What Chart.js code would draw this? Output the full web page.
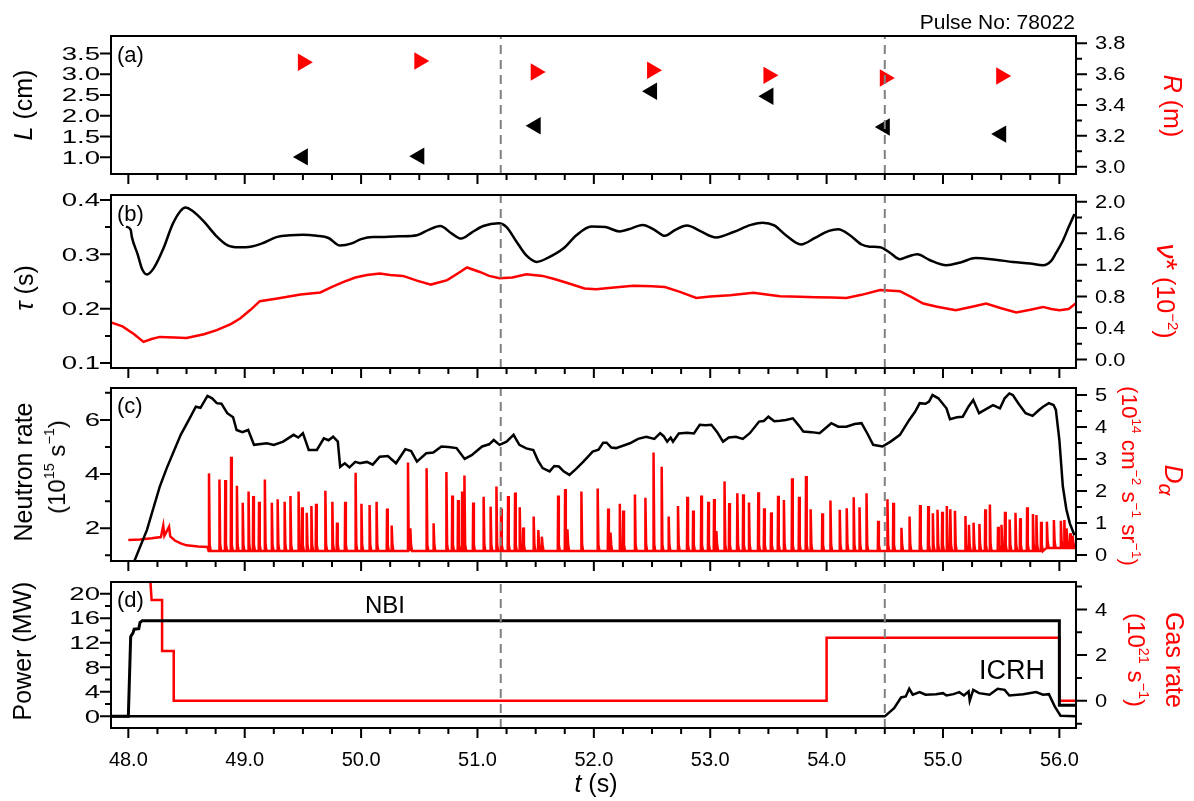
<!DOCTYPE html>
<html>
<head>
<meta charset="utf-8">
<script src="https://cdn.jsdelivr.net/npm/chart.js@4.4.1/dist/chart.umd.min.js"></script>
<style>
html, body { margin: 0; padding: 0; background: #fff; }
#fig { position: relative; width: 1194px; height: 801px; overflow: hidden; font-family: "Liberation Sans", Arial, sans-serif; }
#fig canvas { position: absolute; left: 0; top: 0; }
.t { position: absolute; white-space: nowrap; line-height: 1; color: #000; }
.l { transform: translate(-50%, -50%) rotate(-90deg); }
.r { transform: translate(-50%, -50%) rotate(90deg); color: #f00; }
sup { font-size: 0.6em; position: relative; top: -0.75em; vertical-align: baseline; line-height: 0; }
sub { font-size: 0.8em; position: relative; top: 0.3em; vertical-align: baseline; line-height: 0; }
</style>
</head>
<body>
<div id="fig">
  <canvas id="pa" width="1194" height="801"></canvas>
  <canvas id="pb" width="1194" height="801"></canvas>
  <canvas id="pc" width="1194" height="801"></canvas>
  <canvas id="pd" width="1194" height="801"></canvas>

  <div class="t" style="right:119px;top:11px;font-size:21px">Pulse No: 78022</div>
  <div class="t" style="left:117px;top:44px;font-size:22px">(a)</div>
  <div class="t" style="left:117px;top:203px;font-size:22px">(b)</div>
  <div class="t" style="left:117px;top:395px;font-size:22px">(c)</div>
  <div class="t" style="left:117px;top:589px;font-size:22px">(d)</div>
  <div class="t" style="left:365px;top:593px;font-size:24px">NBI</div>
  <div class="t" style="left:979px;top:657px;font-size:27px">ICRH</div>

  <div class="t l" style="left:23px;top:105px;font-size:25px"><i>L</i> (cm)</div>
  <div class="t l" style="left:24px;top:288px;font-size:25px"><i>τ</i> (s)</div>
  <div class="t l" style="left:23px;top:472px;font-size:25px">Neutron rate</div>
  <div class="t l" style="left:57px;top:467px;font-size:24px">(10<sup>15</sup> s<sup>−1</sup>)</div>
  <div class="t l" style="left:22px;top:651px;font-size:25px">Power (MW)</div>

  <div class="t r" style="left:1172px;top:106px;font-size:25px"><i>R</i> (m)</div>
  <div class="t r" style="left:1167px;top:291px;font-size:25px"><i style="font-size:30px">ν</i><span style="font-size:30px">*</span> (10<sup>−2</sup>)</div>
  <div class="t r" style="left:1174px;top:480px;font-size:26px"><i>D<sub>α</sub></i></div>
  <div class="t r" style="left:1129px;top:476px;font-size:22.5px">(10<sup>14</sup> cm<sup>−2</sup> s<sup>−1</sup> sr<sup>−1</sup>)</div>
  <div class="t r" style="left:1174px;top:660px;font-size:25px">Gas rate</div>
  <div class="t r" style="left:1136px;top:660px;font-size:24px">(10<sup>21</sup> s<sup>−1</sup>)</div>

  <div class="t" style="left:596px;top:783px;font-size:25px;transform:translate(-50%,-50%)"><i>t</i> (s)</div>
</div>
<script>
// shared time axis
const xMin = 47.851, xMax = 56.143;
const xTicks = [48, 49, 50, 51, 52, 53, 54, 55, 56];
const dashT = [51.2, 54.5];

// (a) probe position L and radius R
const probeT = [49.5, 50.5, 51.5, 52.5, 53.5, 54.5, 55.5];
const probeL = [1.01, 1.03, 1.76, 2.59, 2.47, 1.73, 1.56];
const probeR = [3.677, 3.685, 3.614, 3.625, 3.592, 3.575, 3.588];
const aLeftTicks = [1.0, 1.5, 2.0, 2.5, 3.0, 3.5];
const aRightTicks = [3.0, 3.2, 3.4, 3.6, 3.8];

// (b) tau (s) and nu* (1e-2)
const tauT = [47.98,48.02,48.03,48.08,48.12,48.16,48.22,48.3,48.38,48.45,48.49,48.55,48.65,48.75,48.85,48.95,49.05,49.15,49.28,49.39,49.5,49.62,49.72,49.82,49.92,50.0,50.1,50.2,50.33,50.48,50.58,50.68,50.78,50.86,50.95,51.05,51.18,51.25,51.33,51.42,51.51,51.6,51.74,51.85,51.98,52.1,52.22,52.3,52.42,52.52,52.61,52.7,52.8,52.92,53.05,53.2,53.35,53.45,53.55,53.65,53.78,53.9,54.02,54.1,54.2,54.3,54.37,54.46,54.55,54.63,54.7,54.78,54.88,55.03,55.15,55.28,55.45,55.6,55.75,55.86,55.93,55.97,56.03,56.08,56.13];
const tauV = [0.351,0.345,0.332,0.3,0.272,0.263,0.275,0.31,0.355,0.38,0.386,0.38,0.36,0.335,0.317,0.313,0.314,0.32,0.332,0.335,0.336,0.334,0.33,0.316,0.32,0.328,0.332,0.332,0.333,0.335,0.345,0.352,0.338,0.329,0.34,0.352,0.357,0.35,0.325,0.298,0.286,0.293,0.311,0.335,0.351,0.35,0.342,0.346,0.354,0.345,0.334,0.345,0.353,0.342,0.331,0.341,0.354,0.358,0.353,0.335,0.318,0.33,0.343,0.346,0.335,0.318,0.314,0.313,0.302,0.291,0.296,0.3,0.29,0.28,0.285,0.293,0.29,0.286,0.283,0.28,0.288,0.302,0.325,0.35,0.374];
const nuT = [47.85,47.95,48.05,48.13,48.2,48.27,48.4,48.5,48.65,48.76,48.88,48.96,49.05,49.13,49.28,49.48,49.65,49.75,49.85,49.95,50.05,50.16,50.25,50.36,50.48,50.6,50.74,50.84,50.91,51.02,51.1,51.19,51.3,51.42,51.56,51.66,51.76,51.92,52.02,52.15,52.34,52.5,52.61,52.74,52.88,53.0,53.17,53.37,53.5,53.6,53.77,53.9,54.05,54.17,54.3,54.46,54.63,54.73,54.83,54.95,55.11,55.25,55.37,55.5,55.63,55.75,55.86,55.93,56.0,56.08,56.14];
const nuV = [0.47,0.42,0.32,0.223,0.26,0.287,0.28,0.274,0.32,0.372,0.45,0.52,0.63,0.74,0.774,0.825,0.85,0.92,0.985,1.04,1.07,1.09,1.07,1.06,1.0,0.95,1.006,1.1,1.167,1.11,1.06,1.03,1.04,1.08,1.06,1.02,0.977,0.9,0.89,0.91,0.934,0.93,0.92,0.858,0.78,0.8,0.816,0.845,0.82,0.803,0.795,0.79,0.785,0.78,0.82,0.88,0.867,0.79,0.71,0.67,0.626,0.67,0.71,0.65,0.596,0.63,0.667,0.64,0.626,0.64,0.71];
const bLeftTicks = [0.1, 0.2, 0.3, 0.4];
const bRightTicks = [0.0, 0.4, 0.8, 1.2, 1.6, 2.0];

// (c) neutron rate (1e15/s) and D-alpha (1e14 ...)
const neuT = [48.05,48.16,48.27,48.33,48.45,48.52,48.58,48.62,48.68,48.72,48.76,48.8,48.85,48.9,48.93,48.98,49.03,49.08,49.19,49.25,49.33,49.42,49.46,49.5,49.55,49.62,49.68,49.72,49.76,49.8,49.82,49.86,49.9,49.95,49.99,50.05,50.1,50.16,50.23,50.3,50.38,50.43,50.48,50.56,50.62,50.69,50.75,50.82,50.89,50.95,51.04,51.1,51.14,51.19,51.25,51.31,51.36,51.42,51.48,51.52,51.56,51.62,51.66,51.7,51.74,51.79,51.85,51.91,51.99,52.04,52.08,52.11,52.15,52.19,52.31,52.38,52.45,52.52,52.57,52.6,52.63,52.66,52.68,52.73,52.8,52.86,52.91,52.96,53.01,53.06,53.11,53.16,53.22,53.28,53.34,53.42,53.46,53.5,53.55,53.6,53.65,53.71,53.76,53.8,53.87,53.94,54.04,54.1,54.17,54.24,54.3,54.35,54.4,54.48,54.55,54.63,54.71,54.76,54.8,54.85,54.88,54.91,54.96,55.03,55.06,55.12,55.17,55.22,55.26,55.31,55.37,55.43,55.49,55.53,55.57,55.6,55.65,55.71,55.77,55.82,55.86,55.91,55.95,55.97,56.0,56.03,56.06,56.09,56.13];
const neuV = [0.77,1.94,3.54,4.22,5.45,6.0,6.49,6.45,6.89,6.8,6.62,6.6,6.25,6.1,5.63,5.55,5.63,5.08,5.14,5.08,5.2,5.45,5.35,5.51,4.89,4.89,5.32,5.25,5.38,5.2,4.27,4.4,4.25,4.45,4.4,4.45,4.35,4.64,4.67,4.4,4.92,4.85,4.46,4.77,4.8,5.02,5.0,4.96,4.56,4.7,5.02,5.1,5.26,5.08,5.2,5.45,5.08,4.95,4.89,4.5,4.22,4.1,4.3,4.28,4.1,3.97,4.2,4.46,4.83,4.9,5.16,5.16,4.98,4.96,5.14,5.3,5.38,5.3,5.51,5.4,5.2,5.35,5.2,5.5,5.53,5.5,5.82,5.8,5.82,5.55,5.2,5.35,5.38,5.3,5.51,5.94,5.96,6.12,5.95,5.97,6.0,6.06,5.8,5.57,5.55,5.51,5.88,5.75,5.75,5.85,5.88,5.5,5.08,5.02,5.2,5.45,6.0,6.3,6.62,6.6,6.68,6.92,6.8,6.43,6.03,6.1,6.12,6.5,6.74,6.25,6.4,6.55,6.43,6.8,6.98,6.92,6.6,6.25,6.15,6.35,6.49,6.62,6.55,6.37,5.26,3.54,2.7,2.18,1.74];
const daPreT = [48.0,48.1,48.2,48.28,48.3,48.31,48.35,48.36,48.4,48.45,48.5,48.6,48.68];
const daPreV = [0.47,0.48,0.52,0.56,0.92,0.6,0.88,0.58,0.45,0.36,0.3,0.26,0.25];
const elmT = [48.69,48.78,48.83,48.88,48.93,48.98,49.03,49.07,49.12,49.17,49.23,49.28,49.34,49.39,49.46,49.49,49.53,49.57,49.61,49.69,49.75,49.79,49.86,49.95,50.0,50.07,50.13,50.22,50.26,50.4,50.42,50.56,50.62,50.73,50.78,50.83,50.865,50.885,50.96,51.05,51.11,51.16,51.2,51.26,51.32,51.36,51.39,51.48,51.52,51.55,51.69,51.75,51.77,51.89,52.03,52.12,52.14,52.22,52.25,52.35,52.44,52.51,52.58,52.64,52.72,52.8,52.85,52.92,52.98,53.03,53.05,53.12,53.16,53.23,53.28,53.33,53.41,53.46,53.52,53.58,53.63,53.7,53.76,53.82,53.86,53.96,54.03,54.11,54.17,54.23,54.28,54.34,54.44,54.52,54.57,54.64,54.71,54.8,54.87,54.91,54.95,54.99,55.03,55.06,55.1,55.19,55.22,55.26,55.31,55.36,55.4,55.47,55.5,55.53,55.57,55.62,55.66,55.72,55.77,55.8,55.84,55.89,55.95,56.01,56.04,56.06,56.09,56.11];
const elmPk = [2.55,2.36,2.34,3.07,2.16,1.63,1.98,1.84,1.66,2.36,1.63,1.74,1.66,1.84,1.98,1.49,1.32,1.53,1.6,2.01,1.66,1.01,1.66,2.57,1.6,1.56,1.66,1.45,0.92,2.89,0.83,2.71,0.99,2.59,1.86,1.72,1.98,2.48,1.64,1.82,1.51,2.14,1.45,1.84,1.95,1.49,0.86,1.2,0.78,0.57,1.86,2.06,0.8,1.98,2.08,1.45,0.7,1.6,1.39,1.89,1.79,3.2,2.76,1.2,1.53,1.82,1.39,1.86,1.66,1.75,0.75,2.3,1.62,1.93,1.9,1.64,1.96,1.46,1.33,1.85,1.72,2.4,1.82,2.47,1.43,1.3,1.7,1.41,1.46,1.8,1.49,1.93,1.07,1.74,1.63,0.85,1.2,1.56,1.53,1.3,1.41,1.35,1.53,1.43,1.38,1.22,0.94,1.01,0.97,1.43,1.58,0.88,0.94,1.35,1.11,1.32,1.15,1.49,1.28,1.25,1.04,1.04,1.09,1.07,1.09,0.83,0.68,0.6];
const cLeftTicks = [2, 4, 6];
const cRightTicks = [0, 1, 2, 3, 4, 5];

// (d) heating power (MW) and gas rate (1e21/s)
const nbiT = [47.85,48.0,48.02,48.04,48.05,48.09,48.1,48.12,56.0,56.0,56.14];
const nbiV = [0,0,13.0,13.6,14.2,14.3,15.3,15.6,15.6,1.8,1.8];
const icrhT = [47.85,54.5,54.58,54.64,54.68,54.71,54.74,54.8,54.85,54.94,55.0,55.03,55.09,55.14,55.18,55.22,55.23,55.26,55.31,55.4,55.47,55.53,55.57,55.69,55.8,55.86,55.91,55.96,56.01,56.14];
const icrhV = [0,0,1.35,3.08,3.24,4.49,3.52,3.95,3.52,3.62,3.78,3.4,3.62,3.95,3.4,4.05,2.54,4.32,3.78,3.52,4.49,4.32,3.4,3.62,3.95,3.52,3.62,1.62,0.11,0];
const gasT = [48.18,48.2,48.29,48.29,48.39,48.39,54.0,54.0,56.0,56.0,56.14];
const gasV = [6,4.41,4.41,2.18,2.18,0,0,2.76,2.76,0,0];
const dLeftTicks = [0, 4, 8, 12, 16, 20];
const dRightTicks = [0, 2, 4];

const FONT = '"Liberation Sans", Arial, sans-serif';
const H = 801;
const pts = (xs, ys) => xs.map((x, i) => ({x, y: ys[i]}));

// D-alpha trace: start-up part, then one sharp spike per ELM on a low baseline
const daPts = pts(daPreT, daPreV);
elmT.forEach((t, i) => {
  const b = t > 55.85 ? 0.22 : 0.12;
  daPts.push({x: t, y: b}, {x: t + 0.003, y: elmPk[i]}, {x: t + 0.009, y: b + 0.2}, {x: t + 0.018, y: b});
});
daPts.push({x: 56.143, y: 0.22});

// frame, outward tick marks and the (wide) y tick labels
function marks(scale, step) {
  const [major, minor] = step, out = [];
  for (let k = Math.ceil(scale.min / minor - 1e-6); k * minor <= scale.max + 1e-9; k++) {
    const v = k * minor, r = v / major;
    out.push([v, Math.abs(r - Math.round(r)) < 1e-6]);
  }
  return out;
}
function yLabels(ctx, scale, x, align, sx, digits) {
  ctx.font = '19px ' + FONT;
  ctx.fillStyle = '#000';
  ctx.textBaseline = 'middle';
  ctx.textAlign = align;
  scale.ticks.forEach(t => {
    ctx.save();
    ctx.translate(x, scale.getPixelForValue(t.value) + 1);
    ctx.scale(sx, 1);
    ctx.fillText(t.value.toFixed(digits), 0, 0);
    ctx.restore();
  });
}
const frameTicks = {
  id: 'frameTicks',
  afterDatasetsDraw(chart, args, opts) {
    const {ctx, chartArea: a, scales} = chart;
    ctx.save();
    ctx.strokeStyle = '#000';
    ctx.lineWidth = 2;
    ctx.beginPath();
    marks(scales.x, opts.x).forEach(([v, big]) => {
      const p = scales.x.getPixelForValue(v);
      ctx.moveTo(p, a.bottom); ctx.lineTo(p, a.bottom + (big ? 10 : 6));
    });
    marks(scales.y, opts.y).forEach(([v, big]) => {
      const p = scales.y.getPixelForValue(v);
      ctx.moveTo(a.left, p); ctx.lineTo(a.left - (big ? 11 : 6), p);
    });
    marks(scales.y2, opts.y2).forEach(([v, big]) => {
      const p = scales.y2.getPixelForValue(v);
      ctx.moveTo(a.right, p); ctx.lineTo(a.right + (big ? 11 : 6), p);
    });
    ctx.stroke();
    ctx.strokeRect(a.left, a.top, a.right - a.left, a.bottom - a.top);
    yLabels(ctx, scales.y, a.left - 11, 'right', 1.45, opts.digits[0]);
    yLabels(ctx, scales.y2, a.right + 19, 'left', 1.15, opts.digits[1]);
    ctx.restore();
  }
};

function yAxis(pos, min, max, tickVals) {
  return {
    type: 'linear', position: pos, min, max,
    grid: {display: false, drawTicks: false}, border: {display: false},
    afterBuildTicks: s => { s.ticks = tickVals.map(v => ({value: v})); },
    afterFit: s => { s.width = pos === 'left' ? 111 : 118; },
    ticks: {display: false}
  };
}

function panel(id, top, bottom, y, y2, steps, digits, sets, showX) {
  const dashes = dashT.map(t => ({
    data: [{x: t, y: y.min}, {x: t, y: y.max}], yAxisID: 'y',
    borderColor: '#808080', borderWidth: 2, borderDash: [9, 6], pointRadius: 0
  }));
  return new Chart(document.getElementById(id), {
    type: 'line',
    data: {datasets: dashes.concat(sets)},
    options: {
      responsive: false, animation: false, devicePixelRatio: 1,
      layout: {padding: {top, left: 0, right: 0, bottom: 0}},
      elements: {point: {radius: 0}, line: {tension: 0}},
      plugins: {legend: {display: false}, tooltip: {enabled: false},
        frameTicks: {x: [1, 0.25], y: steps[0], y2: steps[1], digits}},
      scales: {
        x: {
          type: 'linear', min: xMin, max: xMax,
          grid: {display: false, drawTicks: false}, border: {display: false},
          afterBuildTicks: s => { s.ticks = xTicks.map(v => ({value: v})); },
          afterFit: s => { s.height = H - bottom; },
          ticks: {display: showX, autoSkip: false, maxRotation: 0, padding: 20, color: '#000',
            font: {family: FONT, size: 20}, callback: v => v.toFixed(1)}
        },
        y, y2
      }
    },
    plugins: [frameTicks]
  });
}

// (a)
panel('pa', 36, 174,
  yAxis('left', 0.6, 3.92, aLeftTicks), yAxis('right', 2.953, 3.847, aRightTicks),
  [[0.5, 0.5], [0.2, 0.1]], [1, 1],
  [
    {data: pts(probeT, probeL), yAxisID: 'y', showLine: false, pointStyle: 'triangle', rotation: -90,
      pointRadius: 10, backgroundColor: '#000', borderColor: '#000', borderWidth: 0},
    {data: pts(probeT, probeR), yAxisID: 'y2', showLine: false, pointStyle: 'triangle', rotation: 90,
      pointRadius: 10, backgroundColor: '#f00', borderColor: '#f00', borderWidth: 0}
  ], false);

// (b)
panel('pb', 195, 368,
  yAxis('left', 0.091, 0.409, bLeftTicks), yAxis('right', -0.107, 2.085, bRightTicks),
  [[0.1, 0.05], [0.4, 0.2]], [1, 1],
  [
    {data: pts(tauT, tauV), yAxisID: 'y', borderColor: '#000', borderWidth: 2.5, cubicInterpolationMode: 'monotone'},
    {data: pts(nuT, nuV), yAxisID: 'y2', borderColor: '#f00', borderWidth: 2.5}
  ], false);

// (c)
panel('pc', 388, 561,
  yAxis('left', 0.79, 7.18, cLeftTicks), yAxis('right', -0.19, 5.22, cRightTicks),
  [[2, 1], [1, 0.5]], [0, 0],
  [
    {data: pts(neuT, neuV), yAxisID: 'y', borderColor: '#000', borderWidth: 2.5},
    {data: daPts, yAxisID: 'y2', borderColor: '#f00', borderWidth: 2.5}
  ], false);

// (d)
panel('pd', 582, 728,
  yAxis('left', -1.9, 21.9, dLeftTicks), yAxis('right', -1.19, 5.2, dRightTicks),
  [[4, 2], [2, 1]], [0, 0],
  [
    {data: pts(nbiT, nbiV), yAxisID: 'y', borderColor: '#000', borderWidth: 3},
    {data: pts(icrhT, icrhV), yAxisID: 'y', borderColor: '#000', borderWidth: 2.5},
    {data: pts(gasT, gasV), yAxisID: 'y2', borderColor: '#f00', borderWidth: 2.5}
  ], true);
</script>
</body>
</html>
